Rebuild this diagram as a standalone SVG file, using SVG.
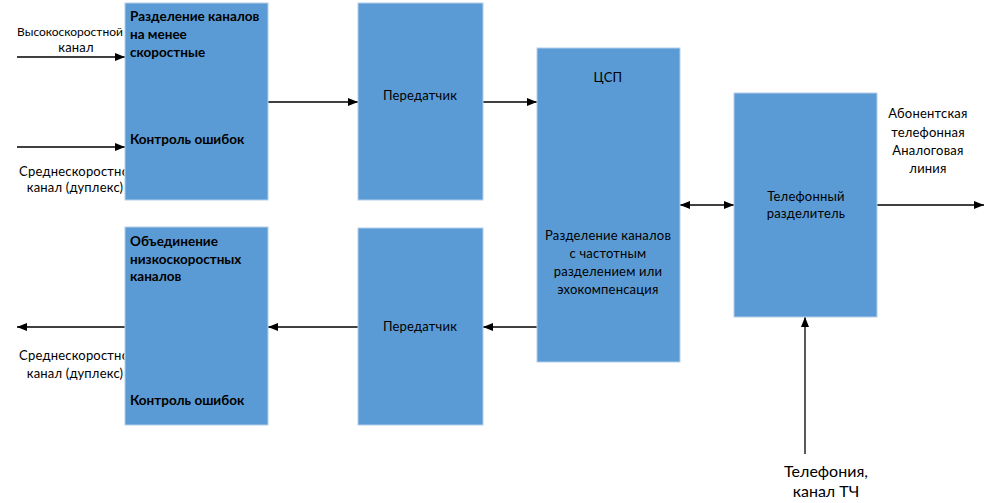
<svg xmlns="http://www.w3.org/2000/svg" width="994" height="503" viewBox="0 0 994 503">
<style>
  .box { fill: #5b9bd5; stroke: #b4cfec; stroke-width: 1; }
  .t { font-family: Lato, "Liberation Sans", sans-serif; font-size: 13px; letter-spacing: 0.2px; fill: #000; }
  .s { font-family: Lato, "Liberation Sans", sans-serif; font-size: 12px; letter-spacing: 0; fill: #000; }
  .b { font-family: Lato, "Liberation Sans", sans-serif; font-size: 13.5px; font-weight: bold; fill: #000; }
  .c { text-anchor: middle; }
  .big { font-family: Lato, "Liberation Sans", sans-serif; font-size: 16px; fill: #000; text-anchor: middle; }
  .ln { stroke: #000; stroke-width: 1.3; fill: none; }
</style>
<defs>
  <marker id="ah" viewBox="0 0 10 8" refX="10" refY="4" markerWidth="10" markerHeight="8" markerUnits="userSpaceOnUse" orient="auto-start-reverse">
    <path d="M0,0 L10,4 L0,8 Z" fill="#000"/>
  </marker>
  <clipPath id="leftclip">
    <rect x="0" y="0" width="124.5" height="503"/>
  </clipPath>
</defs>
<rect width="994" height="503" fill="#fff"/>

<g id="labels">
  <g clip-path="url(#leftclip)">
    <text class="s c" x="70" y="36">Высокоскоростной</text>
    <text class="t c" x="76" y="52">канал</text>
    <text class="t c"><tspan x="78" y="176">Среднескоростной</tspan><tspan x="75" y="192">канал (дуплекс)</tspan></text>
    <text class="t c"><tspan x="78" y="360">Среднескоростной</tspan><tspan x="75" y="378">канал (дуплекс)</tspan></text>
  </g>
  <text class="t c"><tspan x="928" y="118">Абонентская</tspan><tspan x="928" y="137">телефонная</tspan><tspan x="928" y="155">Аналоговая</tspan><tspan x="928" y="173">линия</tspan></text>
  <text class="big"><tspan x="826" y="477">Телефония,</tspan><tspan x="826" y="497">канал ТЧ</tspan></text>
</g>

<g id="connectors">
  <line class="ln" x1="17" y1="57" x2="125" y2="57" marker-end="url(#ah)"/>
  <line class="ln" x1="17" y1="147" x2="125" y2="147" marker-end="url(#ah)"/>
  <line class="ln" x1="268" y1="102" x2="358" y2="102" marker-end="url(#ah)"/>
  <line class="ln" x1="483" y1="102" x2="537" y2="102" marker-end="url(#ah)"/>
  <line class="ln" x1="537" y1="327" x2="483" y2="327" marker-end="url(#ah)"/>
  <line class="ln" x1="358" y1="327" x2="268" y2="327" marker-end="url(#ah)"/>
  <line class="ln" x1="125" y1="327" x2="17" y2="327" marker-end="url(#ah)"/>
  <line class="ln" x1="680" y1="205" x2="734" y2="205" marker-start="url(#ah)" marker-end="url(#ah)"/>
  <line class="ln" x1="877" y1="205" x2="984" y2="205" marker-end="url(#ah)"/>
  <line class="ln" x1="805" y1="454" x2="805" y2="317" marker-end="url(#ah)"/>
</g>

<g id="split">
  <rect class="box" x="125" y="3" width="143" height="197"/>
  <text class="b"><tspan x="130" y="21">Разделение каналов</tspan><tspan x="130" y="39">на менее</tspan><tspan x="130" y="57">скоростные</tspan></text>
  <text class="b" x="130" y="144">Контроль ошибок</text>
</g>

<g id="merge">
  <rect class="box" x="125" y="227" width="143" height="198"/>
  <text class="b"><tspan x="130" y="246">Объединение</tspan><tspan x="130" y="264">низкоскоростных</tspan><tspan x="130" y="281">каналов</tspan></text>
  <text class="b" x="130" y="405">Контроль ошибок</text>
</g>

<g id="tx1">
  <rect class="box" x="358" y="3" width="125" height="197"/>
  <text class="t c" x="420" y="100">Передатчик</text>
</g>

<g id="tx2">
  <rect class="box" x="358" y="228" width="125" height="197"/>
  <text class="t c" x="420" y="331">Передатчик</text>
</g>

<g id="dsp">
  <rect class="box" x="537" y="48" width="143" height="314"/>
  <text class="t c" x="608" y="82">ЦСП</text>
  <text class="t c"><tspan x="608" y="240">Разделение каналов</tspan><tspan x="608" y="258">с частотным</tspan><tspan x="608" y="276">разделением или</tspan><tspan x="608" y="294">эхокомпенсация</tspan></text>
</g>

<g id="splitter">
  <rect class="box" x="734" y="93" width="143" height="224"/>
  <text class="t c"><tspan x="806" y="201">Телефонный</tspan><tspan x="806" y="218">разделитель</tspan></text>
</g>
</svg>
